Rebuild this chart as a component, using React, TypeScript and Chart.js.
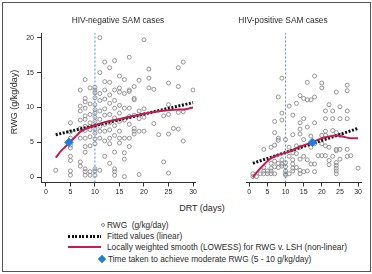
import React, { useEffect, useRef } from "react";
import { Chart, registerables } from "chart.js";

Chart.register(...registerables);

// Axis ticks
const dayTicks = [0, 5, 10, 15, 20, 25, 30];
const rwgTicks = [0, 5, 10, 15, 20];

// Day by which moderate weight gain is expected
const targetDay = 10;

// HIV-negative cases: [days on treatment, RWG g/kg/day]
const hivNegPoints: [number, number][] = [
  [2, 1.0],
  [5, 7.8], [5, 6.5], [5, 5.6], [5, 4.6], [5, 4.2], [5, 3.0], [5, 2.4], [5, 0.9], [5, 0.3],
  [7, 12.5], [7, 10.2], [7, 9.5], [7, 8.2], [7, 7.0], [7, 5.6], [7, 2.2], [7, 1.6],
  [8, 14.0], [8, 11.3], [8, 10.8], [8, 9.9], [8, 8.8], [8, 8.3], [8, 7.3], [8, 6.7], [8, 5.6], [8, 4.4], [8, 3.6], [8, 1.2], [8, 0.8], [8, 0.3],
  [9, 12.8], [9, 10.5], [9, 9.0], [9, 7.8], [9, 6.8], [9, 5.8], [9, 4.5], [9, 0.8], [9, 0.3],
  [10, 12.9], [10, 12.5], [10, 12.1], [10, 11.4], [10, 10.4], [10, 9.7], [10, 9.2], [10, 8.6], [10, 8.0], [10, 7.4], [10, 6.9], [10, 6.3], [10, 5.5], [10, 4.8], [10, 1.2], [10, 0.9], [10, 0.3],
  [11, 20.0], [11, 15.0], [11, 12.0], [11, 11.0], [11, 9.5], [11, 8.3], [11, 7.3], [11, 6.6], [11, 5.6], [11, 1.0],
  [12, 16.5], [12, 13.7], [12, 12.5], [12, 11.2], [12, 9.8], [12, 8.9], [12, 7.6], [12, 6.6], [12, 5.2], [12, 3.0],
  [13, 15.7], [13, 13.6], [13, 11.8], [13, 10.6], [13, 9.0], [13, 7.8], [13, 6.8], [13, 5.6], [13, 4.8], [13, 2.0],
  [14, 16.7], [14, 12.5], [14, 11.0], [14, 9.9], [14, 8.5], [14, 7.4], [14, 6.0], [14, 3.6], [14, 1.2], [14, 0.8], [14, 0.3],
  [15, 14.5], [15, 12.8], [15, 12.2], [15, 10.3], [15, 9.2], [15, 8.0], [15, 6.6], [15, 5.6], [15, 4.9],
  [16, 14.0], [16, 12.0], [16, 9.9], [16, 8.2], [16, 5.6], [16, 3.5], [16, 2.6], [16, 0.1],
  [17, 17.2], [17, 12.5], [17, 12.3], [17, 9.9], [17, 8.7], [17, 7.6], [17, 5.6], [17, 4.4],
  [18, 13.0], [18, 11.3], [18, 11.1], [18, 8.9], [18, 7.0], [18, 6.6], [18, 6.2],
  [19, 13.9], [19, 9.5], [19, 8.4], [19, 6.6], [19, 0.4],
  [20, 19.7], [20, 9.8], [20, 8.6], [20, 6.6],
  [21, 15.5], [21, 14.2], [21, 12.8],
  [22, 12.6], [22, 7.7],
  [23, 6.1],
  [24, 8.8], [24, 2.2],
  [25, 13.5], [25, 10.4], [25, 9.0], [25, 6.2], [25, 0.6],
  [26, 7.0],
  [27, 15.7], [27, 13.0], [27, 9.3], [27, 6.9],
  [28, 16.5], [28, 9.4], [28, 5.2],
  [30, 12.5],
];

// HIV-positive cases: [days on treatment, RWG g/kg/day]
const hivPosPoints: [number, number][] = [
  [1, 0.1], [1, 0.5], [2, 0.1], [3, 0.5],
  [4, 4.0], [4, 1.4], [4, 0.9], [4, 0.5],
  [5, 0.9], [5, 0.5],
  [6, 4.3], [6, 2.0], [6, 1.3], [6, 0.9], [6, 0.5],
  [7, 8.0], [7, 6.4], [7, 4.6], [7, 2.3], [7, 1.5], [7, 0.5],
  [8, 11.5], [8, 5.6], [8, 5.3], [8, 2.0], [8, 1.4],
  [9, 14.2], [9, 9.2], [9, 8.2], [9, 2.5], [9, 1.9], [9, 1.6],
  [10, 5.4], [10, 2.1], [10, 1.5], [10, 0.9], [10, 0.5], [10, 0.3],
  [11, 10.2], [11, 4.3], [11, 3.0], [11, 0.5],
  [12, 8.9], [12, 6.1], [12, 3.5], [12, 2.5], [12, 1.9], [12, 1.3], [12, 0.9],
  [13, 10.6], [13, 4.5], [13, 3.4], [13, 1.4],
  [14, 11.7], [14, 7.8], [14, 6.9], [14, 6.2], [14, 4.3], [14, 2.6], [14, 1.0], [14, 0.5],
  [15, 11.3], [15, 8.4], [15, 5.4], [15, 3.0], [15, 0.8],
  [16, 13.6], [16, 11.1], [16, 7.2], [16, 2.5], [16, 0.9],
  [17, 11.1], [17, 5.9], [17, 4.3], [17, 1.9],
  [18, 14.5], [18, 11.5], [18, 7.8], [18, 4.8], [18, 1.9], [18, 0.8],
  [19, 3.1],
  [20, 13.5], [20, 12.8], [20, 6.0], [20, 4.8], [20, 3.1],
  [21, 9.5], [21, 8.4], [21, 6.6], [21, 6.0], [21, 4.5], [21, 3.1],
  [22, 10.4], [22, 4.3], [22, 2.4], [22, 1.8],
  [23, 9.5], [23, 8.4], [23, 6.7], [23, 3.0],
  [24, 12.2], [24, 6.4], [24, 4.0], [24, 3.8], [24, 2.1], [24, 1.7], [24, 1.3], [24, 0.9], [24, 0.5],
  [25, 10.1], [25, 8.4], [25, 6.0], [25, 4.0], [25, 2.6],
  [27, 13.2], [27, 12.4], [27, 9.5], [27, 8.4], [27, 4.0], [27, 3.0],
  [28, 3.1],
  [30, 1.3],
];

// Linear fits (end points)
const hivNegFitted: [number, number][] = [[2, 6.1], [30, 10.7]];
const hivPosFitted: [number, number][] = [[1, 2.0], [30, 7.0]];

// LOWESS smooths
const hivNegLowess: [number, number][] = [
  [2, 2.8], [3, 3.7], [4, 4.4], [5, 5.1], [6, 5.8], [7, 6.5], [8, 6.9], [9, 7.2], [10, 7.45],
  [12, 7.9], [15, 8.35], [18, 8.8], [20, 9.1], [22, 9.35], [25, 9.6], [27, 9.7], [28, 9.7], [30, 10.0],
];
const hivPosLowess: [number, number][] = [
  [1, 0.0], [2, 0.65], [3, 1.25], [4, 1.8], [5, 2.3], [6, 2.7], [7, 3.0], [8, 3.2], [10, 3.5],
  [12, 3.9], [14, 4.4], [16, 4.75], [17.4, 5.0], [20, 5.6], [22, 5.85], [24, 6.0], [26, 5.8],
  [28, 5.6], [30, 5.6],
];

// Time taken to reach moderate RWG
const hivNegTarget: [number, number] = [4.7, 5.0];
const hivPosTarget: [number, number] = [17.4, 5.0];

const Y_MIN = -0.75;
const Y_MAX = 20.67;

const FONT = "'Liberation Sans', Arial, Helvetica, sans-serif";
const TEXT = "#2b2b2b";
const AXIS = "#333333";
const RED = "#c41c56";
const BLUE = "#1f7fd8";
const VLINE = "#3f97e2";
const DOT = "#8a8a8a";

const toXY = (arr: [number, number][]) => arr.map(([x, y]) => ({ x, y }));

type PanelProps = {
  left: number;
  width: number;
  height: number;
  padLeft: number;
  padRight: number;
  xMin: number;
  xMax: number;
  showY: boolean;
  points: [number, number][];
  fitted: [number, number][];
  lowess: [number, number][];
  target: [number, number];
};

function Panel(p: PanelProps) {
  const ref = useRef<HTMLCanvasElement>(null);

  useEffect(() => {
    const chart = new Chart(ref.current!, {
      type: "scatter",
      data: {
        datasets: [
          {
            data: [{ x: p.target[0], y: p.target[1] }],
            pointStyle: "rectRot",
            pointRadius: 4.2,
            backgroundColor: BLUE,
            borderColor: BLUE,
            borderWidth: 1,
            order: 0,
          },
          {
            data: toXY(p.lowess),
            showLine: true,
            borderColor: RED,
            borderWidth: 2,
            pointRadius: 0,
            cubicInterpolationMode: "monotone",
            fill: false,
            order: 1,
          },
          {
            data: toXY(p.fitted),
            showLine: true,
            borderColor: "#111111",
            borderWidth: 3,
            borderDash: [2, 1.6],
            pointRadius: 0,
            fill: false,
            order: 2,
          },
          {
            data: [
              { x: targetDay, y: Y_MIN },
              { x: targetDay, y: Y_MAX },
            ],
            showLine: true,
            borderColor: VLINE,
            borderWidth: 1,
            borderDash: [2, 2],
            pointRadius: 0,
            fill: false,
            order: 3,
          },
          {
            data: toXY(p.points),
            pointStyle: "circle",
            pointRadius: 2,
            borderWidth: 0.9,
            borderColor: DOT,
            backgroundColor: "rgba(0,0,0,0)",
            order: 4,
          },
        ],
      } as any,
      options: {
        animation: false,
        responsive: false,
        events: [],
        layout: {
          autoPadding: false,
          padding: { left: p.padLeft, right: p.padRight, top: 33, bottom: 0 },
        },
        plugins: {
          legend: { display: false },
          tooltip: { enabled: false },
          title: { display: false },
        },
        scales: {
          x: {
            type: "linear",
            min: p.xMin,
            max: p.xMax,
            afterBuildTicks: (s: any) => {
              s.ticks = dayTicks.map((v) => ({ value: v }));
            },
            afterFit: (s: any) => {
              s.height = p.height - 182.5;
            },
            grid: {
              drawOnChartArea: false,
              drawTicks: true,
              tickLength: 4,
              color: AXIS,
              lineWidth: 1,
            },
            border: { display: true, color: AXIS, width: 1 },
            ticks: {
              autoSkip: false,
              maxRotation: 0,
              padding: 1,
              color: TEXT,
              font: { family: FONT, size: 7 },
            },
          },
          y: {
            type: "linear",
            display: p.showY,
            min: Y_MIN,
            max: Y_MAX,
            afterBuildTicks: (s: any) => {
              s.ticks = rwgTicks.map((v) => ({ value: v }));
            },
            afterFit: (s: any) => {
              s.width = 41;
            },
            grid: {
              drawOnChartArea: false,
              drawTicks: true,
              tickLength: 4,
              color: AXIS,
              lineWidth: 1,
            },
            border: { display: true, color: AXIS, width: 1 },
            ticks: {
              padding: 3,
              color: TEXT,
              font: { family: FONT, size: 7 },
            },
          },
        },
      } as any,
    });
    return () => chart.destroy();
  }, []);

  return (
    <canvas
      ref={ref}
      width={p.width}
      height={p.height}
      style={{ position: "absolute", left: p.left, top: 0, width: p.width, height: p.height }}
    />
  );
}

const abs = (x: number, y: number, extra: React.CSSProperties = {}): React.CSSProperties => ({
  position: "absolute",
  left: x,
  top: y,
  whiteSpace: "nowrap",
  fontFamily: FONT,
  color: TEXT,
  ...extra,
});

export default function App() {
  const legendText: React.CSSProperties = { fontSize: 8.3, lineHeight: "10px", transform: "translateY(-50%)" };
  return (
    <div
      style={{
        position: "absolute",
        left: 0,
        top: 0,
        width: 372,
        height: 274,
        background: "#ffffff",
        overflow: "hidden",
      }}
    >
      <Panel
        left={0}
        width={200}
        height={200}
        padLeft={0}
        padRight={5}
        xMin={-1}
        xMax={30.4}
        showY={true}
        points={hivNegPoints}
        fitted={hivNegFitted}
        lowess={hivNegLowess}
        target={hivNegTarget}
      />
      <Panel
        left={200}
        width={172}
        height={200}
        padLeft={5}
        padRight={10.3}
        xMin={-0.9}
        xMax={31}
        showY={false}
        points={hivPosPoints}
        fitted={hivPosFitted}
        lowess={hivPosLowess}
        target={hivPosTarget}
      />

      {/* panel titles */}
      <div style={abs(118, 20, { fontSize: 8.4, transform: "translate(-50%, -50%)" })}>HIV-negative SAM cases</div>
      <div style={abs(283, 20, { fontSize: 8.4, transform: "translate(-50%, -50%)" })}>HIV-positive SAM cases</div>

      {/* axis titles */}
      <div style={abs(202, 208, { fontSize: 9, transform: "translate(-50%, -50%)" })}>DRT (days)</div>
      <div
        style={abs(14, 102, {
          fontSize: 9,
          transform: "translate(-50%, -50%) rotate(-90deg)",
        })}
      >
        RWG (g/kg/day)
      </div>

      {/* legend */}
      <div
        style={{
          position: "absolute",
          left: 101,
          top: 223,
          width: 4,
          height: 4,
          borderRadius: "50%",
          border: `0.9px solid ${DOT}`,
          boxSizing: "border-box",
        }}
      />
      <div style={abs(107, 225, legendText)}>RWG&nbsp; (g/kg/day)</div>

      <div
        style={{
          position: "absolute",
          left: 68,
          top: 234.5,
          width: 33,
          height: 3,
          background: "repeating-linear-gradient(90deg, #111 0px, #111 2px, transparent 2px, transparent 3.6px)",
        }}
      />
      <div style={abs(107, 236, legendText)}>Fitted values (linear)</div>

      <div style={{ position: "absolute", left: 68, top: 246, width: 33, height: 2, background: RED }} />
      <div style={abs(107, 247, legendText)}>Locally weighted smooth (LOWESS) for RWG v. LSH (non-linear)</div>

      <div
        style={{
          position: "absolute",
          left: 99,
          top: 255.5,
          width: 6,
          height: 6,
          background: BLUE,
          transform: "rotate(45deg)",
        }}
      />
      <div style={abs(108, 258.5, legendText)}>Time taken to achieve moderate RWG (5 - 10 g/kg/day)</div>

      {/* outer frame */}
      <div
        style={{
          position: "absolute",
          left: 2,
          top: 2,
          width: 369,
          height: 270,
          boxSizing: "border-box",
          border: "1px solid #555",
          pointerEvents: "none",
        }}
      />
    </div>
  );
}
